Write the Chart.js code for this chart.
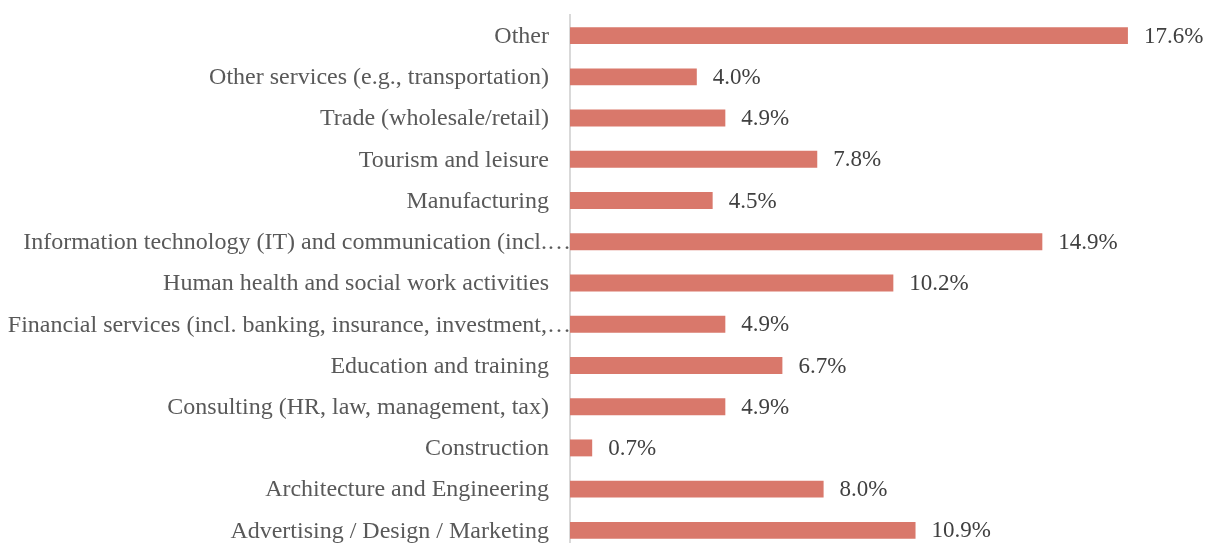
<!DOCTYPE html>
<html>
<head>
<meta charset="utf-8">
<script src="https://cdn.jsdelivr.net/npm/chart.js@4"></script>
<style>
  html, body { margin: 0; padding: 0; background: #fff; overflow: hidden; }
  canvas { display: block; }
</style>
</head>
<body>
<canvas id="grafico1" width="1207" height="551"></canvas>
<script>
const categorias = [
    'Other',
    'Other services (e.g., transportation)',
    'Trade (wholesale/retail)',
    'Tourism and leisure',
    'Manufacturing',
    'Information technology (IT) and communication (incl.\u2026',
    'Human health and social work activities',
    'Financial services (incl. banking, insurance, investment,\u2026',
    'Education and training',
    'Consulting (HR, law, management, tax)',
    'Construction',
    'Architecture and Engineering',
    'Advertising / Design / Marketing'
];
const porcentajes = [17.6, 4.0, 4.9, 7.8, 4.5, 14.9, 10.2, 4.9, 6.7, 4.9, 0.7, 8.0, 10.9];

const fuente = "'Liberation Serif', 'Times New Roman', serif";

// etiquetas de categoría (las recortadas con … llegan hasta el eje)
const etiquetasCategoria = {
    id: 'etiquetasCategoria',
    afterDraw(chart) {
        const ctx = chart.ctx;
        const escala = chart.scales.y;
        ctx.save();
        ctx.font = '24px ' + fuente;
        ctx.fillStyle = '#595959';
        ctx.textAlign = 'right';
        ctx.textBaseline = 'middle';
        categorias.forEach((texto, i) => {
            const y = escala.getPixelForValue(i) + 1;
            const x = texto.endsWith('\u2026') ? escala.right + 1 : escala.right - 21;
            ctx.fillText(texto, x, y);
        });
        ctx.restore();
    }
};

// etiquetas de valor a la derecha de cada barra
const etiquetasValor = {
    id: 'etiquetasValor',
    afterDatasetsDraw(chart) {
        const ctx = chart.ctx;
        const meta = chart.getDatasetMeta(0);
        ctx.save();
        ctx.font = '23px ' + fuente;
        ctx.fillStyle = '#404040';
        ctx.textAlign = 'left';
        ctx.textBaseline = 'middle';
        meta.data.forEach((barra, i) => {
            ctx.fillText(porcentajes[i].toFixed(1) + '%', barra.x + 16, barra.y + 1);
        });
        ctx.restore();
    }
};

const grafico1 = document.getElementById('grafico1').getContext('2d');

window.graficaSectores = new Chart(grafico1, {
    type: 'bar',
    data: {
        labels: categorias,
        datasets: [{
            data: porcentajes,
            backgroundColor: '#D9786B',
            borderWidth: 0,
            barPercentage: 0.41,
            categoryPercentage: 1.0
        }]
    },
    options: {
        indexAxis: 'y',
        responsive: false,
        animation: false,
        layout: { padding: { top: 15, right: 3, bottom: 0, left: 0 } },
        scales: {
            x: {
                display: false,
                min: 0,
                max: 20
            },
            y: {
                afterFit: (escala) => { escala.width = 570; },
                grid: { display: false, drawTicks: false },
                border: { display: true, color: '#D9D9D9', width: 2 },
                ticks: { display: false }
            }
        },
        plugins: {
            legend: { display: false },
            tooltip: { enabled: false }
        }
    },
    plugins: [etiquetasCategoria, etiquetasValor]
});
</script>
</body>
</html>
